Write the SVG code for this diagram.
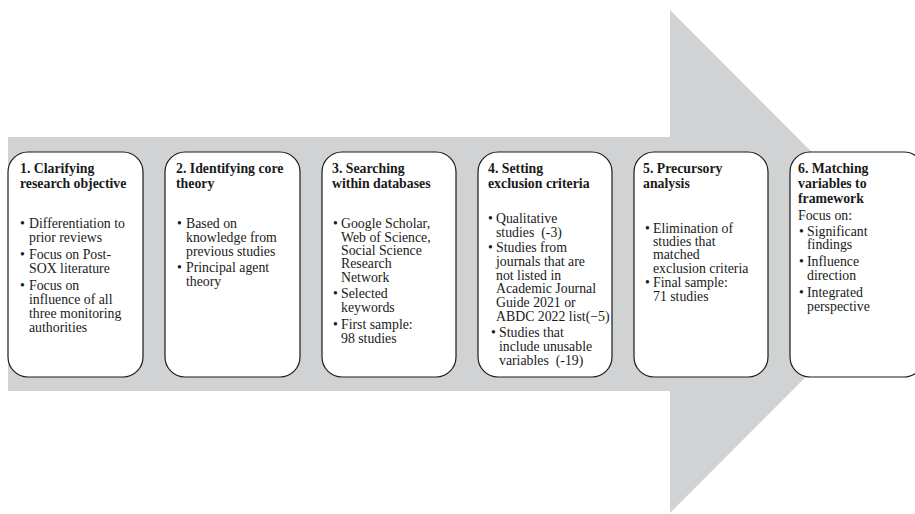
<svg xmlns="http://www.w3.org/2000/svg" width="915" height="514" viewBox="0 0 915 514">
  <style>
    .arrow { fill: #d1d2d4; }
    .box { fill: #ffffff; stroke: #1a1a1a; stroke-width: 1.2; }
    text { font-family: "Liberation Serif", "Times New Roman", serif; font-size: 13.8px; fill: #1a1a1a; }
    .title { font-weight: bold; }
  </style>

  <!-- Large process arrow behind the steps -->
  <g id="flow-arrow">
    <polygon class="arrow" points="8,137 670,137 670,10 921,261.5 670,513 670,391 8,391"/>
  </g>

  <!-- Step 1 -->
  <g id="step1">
    <rect class="box" x="8" y="152" width="135" height="225" rx="20" ry="20"/>
    <text class="title"><tspan x="20" y="173">1. Clarifying</tspan><tspan x="20" y="188">research objective</tspan></text>
    <text>
      <tspan x="20" y="228">•</tspan><tspan x="29" y="228">Differentiation to</tspan>
      <tspan x="29" y="242">prior reviews</tspan>
      <tspan x="20" y="259">•</tspan><tspan x="29" y="259">Focus on Post-</tspan>
      <tspan x="29" y="273">SOX literature</tspan>
      <tspan x="20" y="290">•</tspan><tspan x="29" y="290">Focus on</tspan>
      <tspan x="29" y="304">influence of all</tspan>
      <tspan x="29" y="318">three monitoring</tspan>
      <tspan x="29" y="332">authorities</tspan>
    </text>
  </g>

  <!-- Step 2 -->
  <g id="step2">
    <rect class="box" x="165" y="152" width="135" height="225" rx="20" ry="20"/>
    <text class="title"><tspan x="176" y="173">2. Identifying core</tspan><tspan x="176" y="188">theory</tspan></text>
    <text>
      <tspan x="177" y="228">•</tspan><tspan x="186" y="228">Based on</tspan>
      <tspan x="186" y="242">knowledge from</tspan>
      <tspan x="186" y="256">previous studies</tspan>
      <tspan x="177" y="272">•</tspan><tspan x="186" y="272">Principal agent</tspan>
      <tspan x="186" y="286">theory</tspan>
    </text>
  </g>

  <!-- Step 3 -->
  <g id="step3">
    <rect class="box" x="322" y="152" width="134" height="225" rx="20" ry="20"/>
    <text class="title"><tspan x="332" y="173">3. Searching</tspan><tspan x="332" y="188">within databases</tspan></text>
    <text>
      <tspan x="333" y="228">•</tspan><tspan x="341" y="228">Google Scholar,</tspan>
      <tspan x="341" y="242">Web of Science,</tspan>
      <tspan x="341" y="255">Social Science</tspan>
      <tspan x="341" y="268">Research</tspan>
      <tspan x="341" y="282">Network</tspan>
      <tspan x="333" y="298">•</tspan><tspan x="341" y="298">Selected</tspan>
      <tspan x="341" y="312">keywords</tspan>
      <tspan x="333" y="329">•</tspan><tspan x="341" y="329">First sample:</tspan>
      <tspan x="341" y="343">98 studies</tspan>
    </text>
  </g>

  <!-- Step 4 -->
  <g id="step4">
    <rect class="box" x="478" y="152" width="134" height="225" rx="20" ry="20"/>
    <text class="title"><tspan x="488" y="173">4. Setting</tspan><tspan x="488" y="188">exclusion criteria</tspan></text>
    <text>
      <tspan x="488" y="223">•</tspan><tspan x="496" y="223">Qualitative</tspan>
      <tspan x="496" y="237">studies &#160;(-3)</tspan>
      <tspan x="488" y="252">•</tspan><tspan x="496" y="252">Studies from</tspan>
      <tspan x="496" y="266">journals that are</tspan>
      <tspan x="496" y="280">not listed in</tspan>
      <tspan x="496" y="293">Academic Journal</tspan>
      <tspan x="496" y="307">Guide 2021 or</tspan>
      <tspan x="496" y="321">ABDC 2022 list(−5)</tspan>
      <tspan x="491" y="337">•</tspan><tspan x="499" y="337">Studies that</tspan>
      <tspan x="499" y="351">include unusable</tspan>
      <tspan x="499" y="365">variables &#160;(-19)</tspan>
    </text>
  </g>

  <!-- Step 5 -->
  <g id="step5">
    <rect class="box" x="634" y="152" width="134" height="225" rx="20" ry="20"/>
    <text class="title"><tspan x="643" y="173">5. Precursory</tspan><tspan x="643" y="188">analysis</tspan></text>
    <text>
      <tspan x="645" y="233">•</tspan><tspan x="653" y="233">Elimination of</tspan>
      <tspan x="653" y="246">studies that</tspan>
      <tspan x="653" y="259">matched</tspan>
      <tspan x="653" y="273">exclusion criteria</tspan>
      <tspan x="645" y="287">•</tspan><tspan x="653" y="287">Final sample:</tspan>
      <tspan x="653" y="301">71 studies</tspan>
    </text>
  </g>

  <!-- Step 6 -->
  <g id="step6">
    <rect class="box" x="790" y="152" width="134" height="225" rx="20" ry="20"/>
    <text class="title"><tspan x="798" y="173">6. Matching</tspan><tspan x="798" y="188">variables to</tspan><tspan x="798" y="203">framework</tspan></text>
    <text>
      <tspan x="798" y="220">Focus on:</tspan>
      <tspan x="799" y="236">•</tspan><tspan x="807" y="236">Significant</tspan>
      <tspan x="807" y="249">findings</tspan>
      <tspan x="799" y="266">•</tspan><tspan x="807" y="266">Influence</tspan>
      <tspan x="807" y="280">direction</tspan>
      <tspan x="799" y="297">•</tspan><tspan x="807" y="297">Integrated</tspan>
      <tspan x="807" y="311">perspective</tspan>
    </text>
  </g>

  <!-- Steps are laid side by side along the arrow; there are no separate connectors -->
  <g id="connectors"/>
</svg>
